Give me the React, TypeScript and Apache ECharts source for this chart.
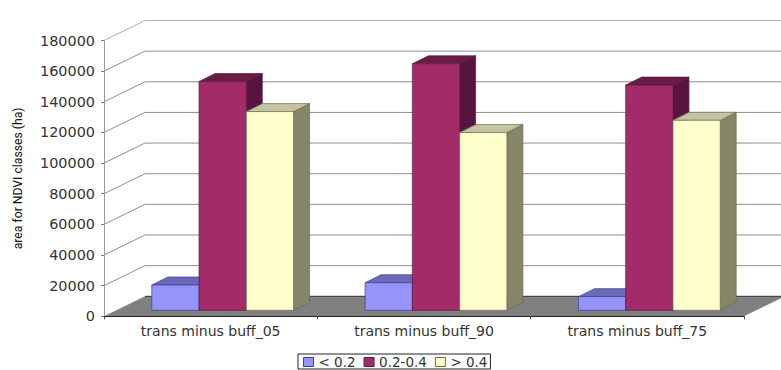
import React, { useEffect, useRef } from "react";
import * as echarts from "echarts";

const categories = ["trans minus buff_05", "trans minus buff_90", "trans minus buff_75"];
const lowClass = [16500, 18000, 8900];
const midClass = [149300, 160900, 147000];
const highClass = [129700, 116000, 124000];
const wallTicks = [0, 20000, 40000, 60000, 80000, 100000, 120000, 140000, 160000, 180000];

const seriesNames = ["< 0.2", "0.2-0.4", "> 0.4"];
const faceColors = [
  { front: "#9494fb", top: "#6a6ab8", side: "#4c4c8c", edge: "#3f3f8f" },
  { front: "#a32c68", top: "#6a1c48", side: "#571440", edge: "#5a1a42" },
  { front: "#ffffcc", top: "#c4c4a2", side: "#858568", edge: "#6c6c55" },
];

// Oblique projection of the plot box: wall depth and the inset of the bars on the floor
const WALL_DX = 41;
const WALL_DY = -20;
const BAR_INSET_X = 12;
const BAR_INSET_Y = -6;
const BAR_DX = 16;
const BAR_DY = -8;
const BAR_BAND = 0.2215;

function barRenderer(slot: number) {
  const colors = faceColors[slot];
  return (_params: any, api: any) => {
    const top = api.coord([api.value(0), api.value(1)]);
    const base = api.coord([api.value(0), 0]);
    const w = api.size([1, 0])[0] * BAR_BAND;
    const x0 = base[0] + BAR_INSET_X + (slot - 1.5) * w;
    const x1 = x0 + w;
    const yBase = base[1] + BAR_INSET_Y;
    const yTop = top[1] + BAR_INSET_Y;
    const line = { stroke: colors.edge, lineWidth: 0.7 };
    return {
      type: "group",
      children: [
        {
          type: "polygon",
          shape: { points: [[x1, yBase], [x1 + BAR_DX, yBase + BAR_DY], [x1 + BAR_DX, yTop + BAR_DY], [x1, yTop]] },
          style: { fill: colors.side, ...line },
        },
        {
          type: "polygon",
          shape: { points: [[x0, yTop], [x1, yTop], [x1 + BAR_DX, yTop + BAR_DY], [x0 + BAR_DX, yTop + BAR_DY]] },
          style: { fill: colors.top, ...line },
        },
        {
          type: "rect",
          shape: { x: x0, y: yTop, width: w, height: yBase - yTop },
          style: { fill: colors.front, ...line },
        },
      ],
    };
  };
}

// Back wall grid lines with their diagonal run along the side wall, plus the grey floor
function wallRenderer(params: any, api: any) {
  const sys = params.coordSys;
  const v = api.value(1);
  const y = api.coord([0, v])[1];
  const left = sys.x;
  const right = sys.x + sys.width;
  const children: any[] = [];
  if (v === 0) {
    children.push({
      type: "polygon",
      shape: { points: [[left, y], [right, y], [right + WALL_DX, y + WALL_DY], [left + WALL_DX, y + WALL_DY]] },
      style: { fill: "#808080", stroke: "none" },
    });
    children.push({
      type: "line",
      shape: { x1: left + WALL_DX, y1: y + WALL_DY, x2: right + WALL_DX, y2: y + WALL_DY },
      style: { stroke: "#333333", lineWidth: 1 },
    });
  } else {
    children.push({
      type: "polyline",
      shape: { points: [[left, y], [left + WALL_DX, y + WALL_DY], [right + WALL_DX, y + WALL_DY]] },
      style: { fill: "none", stroke: v === 180000 ? "#b0b0b0" : "#8f8f8f", lineWidth: 1 },
    });
  }
  return { type: "group", children };
}

const valueSets = [lowClass, midClass, highClass];

export default function App() {
  const ref = useRef<HTMLDivElement>(null);

  useEffect(() => {
    const chart = echarts.init(ref.current!, undefined, { renderer: "svg" });
    chart.setOption({
      animation: false,
      backgroundColor: "#ffffff",
      grid: { left: 104, top: 40.5, width: 640, height: 275.8 },
      legend: {
        data: seriesNames.map((name, i) => ({
          name,
          icon: "rect",
          itemStyle: { color: faceColors[i].front, borderColor: faceColors[i].edge, borderWidth: 1 },
        })),
        left: 298,
        top: 354,
        orient: "horizontal",
        itemWidth: 10,
        itemHeight: 9,
        itemGap: 8,
        padding: [1, 3, 0, 5],
        borderColor: "#222222",
        borderWidth: 1,
        backgroundColor: "#ffffff",
        textStyle: { fontFamily: "DejaVu Sans", fontSize: 13.5, color: "#333333" },
      },
      xAxis: {
        type: "category",
        data: categories,
        axisLine: { lineStyle: { color: "#222222", width: 1 } },
        axisTick: { show: true, length: 3, alignWithLabel: false, lineStyle: { color: "#444444" } },
        axisLabel: { fontFamily: "DejaVu Sans", fontSize: 14, color: "#333333", margin: 8 },
        splitLine: { show: false },
      },
      yAxis: {
        type: "value",
        min: 0,
        max: 180000,
        interval: 20000,
        name: "area for NDVI classes (ha)",
        nameLocation: "middle",
        nameGap: 80,
        nameTextStyle: { fontFamily: "Roboto", fontSize: 12.2, color: "#111111" },
        axisLine: { show: true, lineStyle: { color: "#999999", width: 1 } },
        axisTick: { show: true, length: 3, lineStyle: { color: "#777777" } },
        axisLabel: {
          fontFamily: "DejaVu Sans",
          fontSize: 14.4,
          color: "#333333",
          margin: 9,
          formatter: (v: number) => String(v),
        },
        splitLine: { show: false },
      },
      series: [
        {
          type: "custom",
          name: "wall",
          coordinateSystem: "cartesian2d",
          silent: true,
          clip: false,
          encode: { x: 0, y: 1 },
          data: wallTicks.map((t) => [0, t]),
          renderItem: wallRenderer,
          z: 0,
        },
        ...seriesNames.map((name, i) => ({
          type: "custom",
          name,
          coordinateSystem: "cartesian2d",
          clip: false,
          itemStyle: { color: faceColors[i].front },
          encode: { x: 0, y: 1 },
          data: valueSets[i].map((v, c) => [c, v]),
          renderItem: barRenderer(i),
          z: 2 + i,
        })),
      ],
    });
    return () => chart.dispose();
  }, []);

  return <div ref={ref} style={{ position: "fixed", left: 0, top: 0, width: 781, height: 370 }} />;
}
